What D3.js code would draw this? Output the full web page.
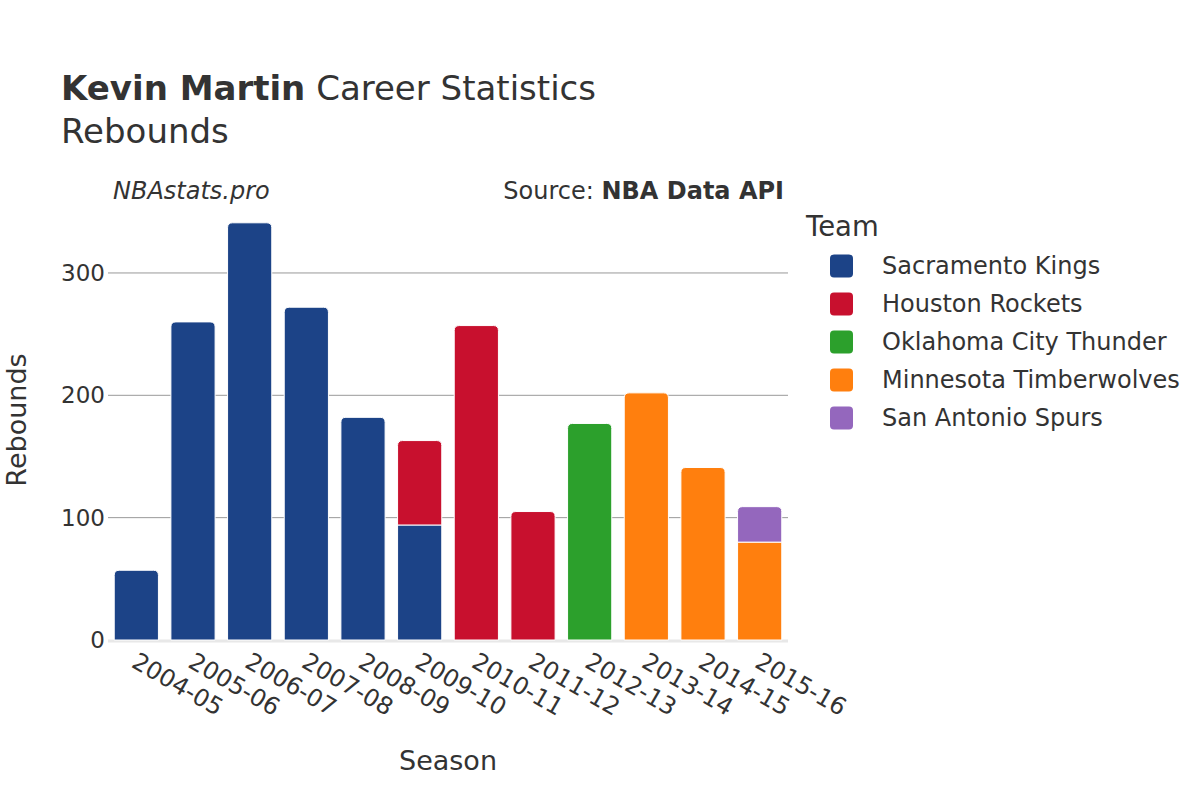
<!DOCTYPE html>
<html><head><meta charset="utf-8">
<script src="https://cdn.jsdelivr.net/npm/d3@7"></script>
<style>body{margin:0;background:#fff}svg{font-family:"DejaVu Sans",sans-serif}</style>
</head><body><svg id="c" width="1200" height="800"></svg>
<script>
const seasons = ["2004-05","2005-06","2006-07","2007-08","2008-09","2009-10","2010-11","2011-12","2012-13","2013-14","2014-15","2015-16"];
const teams = ["Sacramento Kings","Houston Rockets","Oklahoma City Thunder","Minnesota Timberwolves","San Antonio Spurs"];
const colors = ["#1c4387","#c8102e","#2ca02c","#ff7f0e","#9467bd"];
const kings  = [57,260,341,272,182,94,0,0,0,0,0,0];
const rockets= [0,0,0,0,0,69,257,105,0,0,0,0];
const thunder= [0,0,0,0,0,0,0,0,177,0,0,0];
const wolves = [0,0,0,0,0,0,0,0,0,202,141,80];
const spurs  = [0,0,0,0,0,0,0,0,0,0,0,29];
const yTicks = [0,100,200,300];
const series = [kings,rockets,thunder,wolves,spurs];

const svg = d3.select("#c");
const m = {l:108, r:788, t:202, b:640};
const x = d3.scaleBand().domain(seasons).range([m.l,m.r]).paddingInner(0.22).paddingOuter(0.11);
const y = d3.scaleLinear().domain([0,358]).range([m.b,m.t]);
const txt = "#333";

// gridlines
svg.append("g").selectAll("line").data(yTicks.filter(d=>d>0)).join("line")
  .attr("x1",m.l).attr("x2",m.r).attr("y1",d=>y(d)).attr("y2",d=>y(d))
  .attr("stroke","#999").attr("stroke-width",1);
svg.append("line").attr("x1",m.l).attr("x2",m.r).attr("y1",y(0)+1).attr("y2",y(0)+1)
  .attr("stroke","#e8e8e8").attr("stroke-width",3);

// y tick labels
svg.append("g").selectAll("text").data(yTicks).join("text")
  .attr("x",m.l-3).attr("y",d=>y(d)).attr("dy","0.35em").attr("text-anchor","end")
  .attr("font-size",23).attr("fill",txt).text(d=>d);

// stacked bars
function topRounded(x0,y0,w,h,r){
  r=Math.min(r,h,w/2);
  return `M${x0},${y0+h}V${y0+r}Q${x0},${y0} ${x0+r},${y0}H${x0+w-r}Q${x0+w},${y0} ${x0+w},${y0+r}V${y0+h}Z`;
}
const bars = svg.append("g");
seasons.forEach((s,i)=>{
  let base=0;
  const segs=[];
  series.forEach((ser,k)=>{ if(ser[i]>0){segs.push({k,v0:base,v1:base+ser[i]}); base+=ser[i];}});
  segs.forEach((sg,j)=>{
    const top=j===segs.length-1;
    const x0=x(s), w=x.bandwidth(), y0=y(sg.v1), h=y(sg.v0)-y(sg.v1);
    bars.append("path")
      .attr("d", top? topRounded(x0,y0,w,h,5) : `M${x0},${y0}h${w}v${h}h${-w}Z`)
      .attr("fill",colors[sg.k]).attr("stroke","#fff").attr("stroke-width",1);
  });
});

// x tick labels
svg.append("g").selectAll("text").data(seasons).join("text")
  .attr("transform",d=>`translate(${x(d)+x.bandwidth()/2-2},${m.b+19}) rotate(30)`)
  .attr("font-size",24).attr("fill",txt).attr("dy","0.35em").text(d=>d);

// axis titles
svg.append("text").attr("x",448).attr("y",770).attr("text-anchor","middle")
  .attr("font-size",27).attr("fill",txt).text("Season");
svg.append("text").attr("transform","translate(26,420) rotate(-90)").attr("text-anchor","middle")
  .attr("font-size",27).attr("fill",txt).text("Rebounds");

// title
const t = svg.append("text").attr("x",61).attr("y",100).attr("font-size",34).attr("fill",txt);
t.append("tspan").attr("font-weight","bold").text("Kevin Martin");
t.append("tspan").text(" Career Statistics");
svg.append("text").attr("x",61).attr("y",143).attr("font-size",34).attr("fill",txt).text("Rebounds");

// annotations
svg.append("text").attr("x",113).attr("y",199).attr("font-size",24).attr("font-style","italic").attr("fill",txt).text("NBAstats.pro");
const s2 = svg.append("text").attr("x",784).attr("y",199).attr("text-anchor","end").attr("font-size",24).attr("fill",txt);
s2.append("tspan").text("Source: ");
s2.append("tspan").attr("font-weight","bold").text("NBA Data API");

// legend
svg.append("text").attr("x",806).attr("y",236).attr("font-size",27.5).attr("fill",txt).text("Team");
const lg = svg.append("g").selectAll("g").data(teams).join("g")
  .attr("transform",(d,i)=>`translate(830,${266+i*38})`);
lg.append("rect").attr("x",0).attr("y",-11.5).attr("width",23).attr("height",23).attr("rx",4)
  .attr("fill",(d,i)=>colors[i]);
lg.append("text").attr("x",52).attr("y",0).attr("dy","0.35em").attr("font-size",24).attr("fill",txt).text(d=>d);
</script></body></html>
